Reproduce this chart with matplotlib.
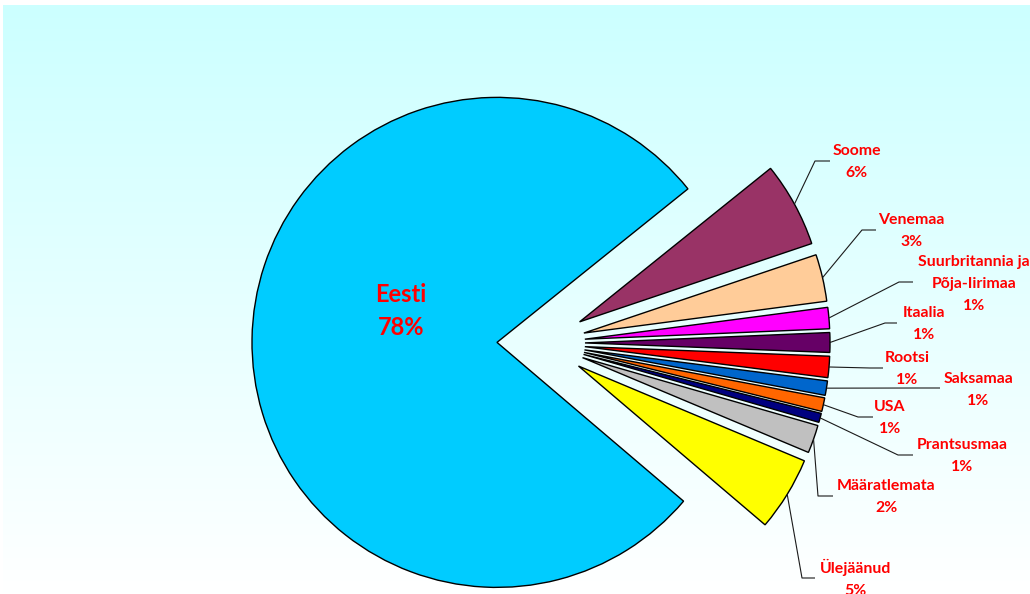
import matplotlib
matplotlib.use("Agg")
import matplotlib.pyplot as plt
import numpy as np

# ---- data (counter-clockwise order, starting with Eesti) ----
categories = ["Eesti", "Ülejäänud", "Määratlemata", "Prantsusmaa", "USA",
              "Saksamaa", "Rootsi", "Itaalia", "Suurbritannia ja\nPõja-Iirimaa",
              "Venemaa", "Soome"]
values = [78.0, 4.9, 1.85, 0.6, 0.9, 0.95, 1.4, 1.3, 1.4, 3.1, 5.6]
colors = ["#00CCFF", "#FFFF00", "#C0C0C0", "#000080", "#FF6600", "#0066CC",
          "#FF0000", "#660066", "#FF00FF", "#FFCC99", "#993366"]

# ---- layout (pixel coordinates of the 1030x594 canvas) ----
W, H = 1030, 594
# label: (text centre x, first baseline y, elbow point, end of horizontal tick)
label_layout = {
    "Ülejäänud": (855.5, 573, (802, 578), (815, 578)),
    "Määratlemata": (886.5, 490, (818, 496), (833, 496)),
    "Prantsusmaa": (962, 449, (898, 455), (913, 455)),
    "USA": (890, 411, (858, 417), (873, 417)),
    "Saksamaa": (978, 383, (920, 388), (940, 388)),
    "Rootsi": (907, 362, (870, 368), (883, 368)),
    "Itaalia": (924, 317, (885, 323), (897, 323)),
    "Suurbritannia ja\nPõja-Iirimaa": (974, 266, (899, 282), (913, 282)),
    "Venemaa": (911.5, 224, (862, 230), (876, 230)),
    "Soome": (856.5, 155, (815, 161), (830, 161)),
}


def Y(py):
    return H - py


fig = plt.figure(figsize=(W / 100, H / 100), dpi=100)
ax = fig.add_axes([0, 0, 1, 1])

# background gradient of the plot area
n = 256
t = np.linspace(0, 1, n)[:, None]
top = np.array([204, 255, 255]) / 255
bot = np.array([255, 255, 255]) / 255
grad = top * (1 - t) + bot * t
img = np.repeat(grad[:, None, :], 2, axis=1)
ax.imshow(img, extent=[3, W, Y(H), Y(5)], aspect="auto", zorder=0,
          interpolation="bilinear")

cx, cy, R, EXP = 541, Y(343), 245, 44
wedges, _ = ax.pie(values, colors=colors, startangle=38.8, center=(cx, cy),
                   radius=R, explode=[EXP] * len(values), frame=True,
                   wedgeprops=dict(edgecolor="black", linewidth=1.0))
for w in wedges:
    w.set_zorder(2)

ax.set_xlim(0, W)
ax.set_ylim(0, H)
ax.set_aspect("auto")
ax.axis("off")

font = dict(family=["Lato", "DejaVu Sans"], weight="bold", color="#FF0000")
pcts = [f"{round(v)}%" for v in values]

for cat, pct, w in zip(categories, pcts, wedges):
    if cat == "Eesti":
        ax.text(401, Y(302), cat, ha="center", va="baseline", fontsize=17, zorder=5, **font)
        ax.text(401, Y(335), pct, ha="center", va="baseline", fontsize=17, zorder=5, **font)
        continue
    tx, by, elbow, hend = label_layout[cat]
    lines = cat.split("\n") + [pct]
    for i, ln in enumerate(lines):
        ax.text(tx, Y(by + 22 * i), ln, ha="center", va="baseline",
                fontsize=11.4, zorder=5, clip_on=False, **font)
    m = np.deg2rad(0.5 * (w.theta1 + w.theta2))
    sx = w.center[0] + w.r * np.cos(m)
    sy = w.center[1] + w.r * np.sin(m)
    ax.plot([sx, elbow[0], hend[0]], [sy, Y(elbow[1]), Y(hend[1])],
            color="#1a1a1a", lw=0.8, zorder=4, solid_capstyle="butt")

fig.savefig("out.png", dpi=100)
